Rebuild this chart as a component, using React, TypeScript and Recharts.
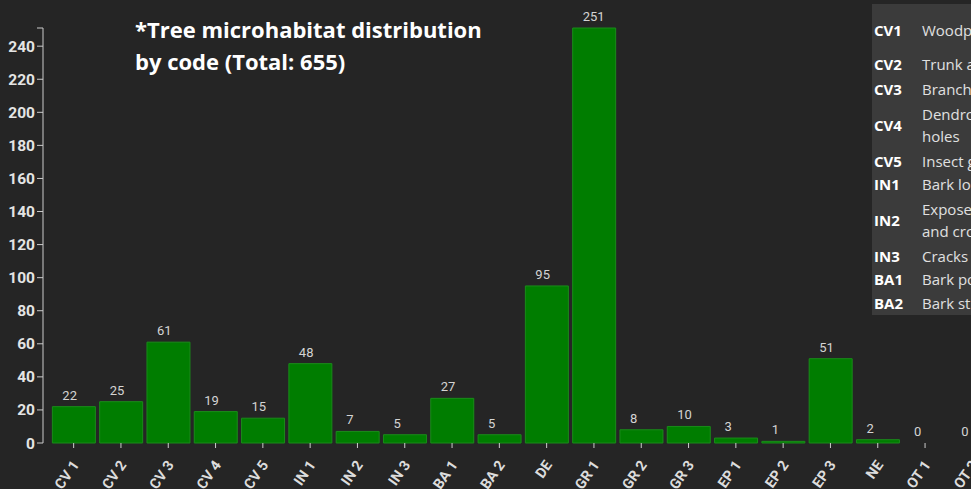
import React from 'react';
import { ComposedChart, Bar, Line, XAxis, YAxis, LabelList } from 'recharts';

const codes = ['CV 1', 'CV 2', 'CV 3', 'CV 4', 'CV 5', 'IN 1', 'IN 2', 'IN 3', 'BA 1', 'BA 2', 'DE', 'GR 1', 'GR 2', 'GR 3', 'EP 1', 'EP 2', 'EP 3', 'NE', 'OT 1', 'OT 2'];
const counts = [22, 25, 61, 19, 15, 48, 7, 5, 27, 5, 95, 251, 8, 10, 3, 1, 51, 2, 0, 0];
const yTicks = [0, 20, 40, 60, 80, 100, 120, 140, 160, 180, 200, 220, 240, 251];

const legendCodes = ['CV1', 'CV2', 'CV3', 'CV4', 'CV5', 'IN1', 'IN2', 'IN3', 'BA1', 'BA2'];
const legendLines: string[][] = [
  ['Woodpecker breeding cavities'],
  ['Trunk and mould cavities'],
  ['Branch holes'],
  ['Dendrotelms and water-filled', 'holes'],
  ['Insect galleries and bore holes'],
  ['Bark loss / exposed sapwood'],
  ['Exposed heartwood', 'and crown breakage'],
  ['Cracks and scars'],
  ['Bark pockets'],
  ['Bark structure'],
];
const legendCenters = [30, 64, 89, 125, 161, 184, 220, 256, 279, 303];

const data = codes.map((c, i) => ({ code: c, value: counts[i], zero: counts[i] === 0 ? 0 : null }));

const XTick = (props: any) => {
  const { x, y, payload } = props;
  return (
    <g transform={`translate(${x + 2},${y + 12})`}>
      <text
        transform="rotate(-55)"
        textAnchor="end"
        dy="0.35em"
        fill="#dcdcdc"
        fontFamily="Roboto"
        fontWeight={700}
        fontSize={14.5}
      >
        {payload.value}
      </text>
    </g>
  );
};

const renderValue = (p: any) => {
  if (p.value === null || p.value === undefined) return null;
  const vb = p.viewBox || p;
  const x = Number(vb.x);
  const y = Number(vb.y);
  const w = Number(vb.width) || 0;
  const left = w > 0 ? x + 10 : x - 11;
  return (
    <text x={left} y={y - 7} textAnchor="start" fill="#d4d4d4" fontFamily="Roboto" fontSize={13}>
      {p.value}
    </text>
  );
};

export default function App() {
  const lh = 22;
  return (
    <div style={{ position: 'fixed', left: 0, top: 0, width: 971, height: 489, overflow: 'hidden', background: '#252525' }}>
      <ComposedChart width={1010} height={489} data={data} barCategoryGap="5%" margin={{ top: 28, right: 14, left: 0, bottom: 0 }}>
        <XAxis
          dataKey="code"
          interval={0}
          height={46}
          axisLine={false}
          tickLine={{ stroke: '#cccccc' }}
          tickSize={5}
          padding={{ left: 7, right: 0 }}
          tick={<XTick />}
        />
        <YAxis
          width={43}
          domain={[0, 251]}
          ticks={yTicks}
          interval={0}
          axisLine={{ stroke: '#cccccc' }}
          tickLine={{ stroke: '#cccccc' }}
          tickSize={6}
          tickFormatter={(v: number) => (v === 251 ? '' : String(v))}
          tick={{ fill: '#e4e4e4', fontFamily: 'Roboto', fontWeight: 700, fontSize: 15.5 }}
        />
        <Bar dataKey="value" fill="#007d00" stroke="#1a8c1a" strokeWidth={1} isAnimationActive={false}>
          <LabelList dataKey="value" position="top" content={renderValue} />
        </Bar>
        <Line dataKey="zero" stroke="none" dot={false} activeDot={false} isAnimationActive={false}>
          <LabelList dataKey="zero" position="top" content={renderValue} />
        </Line>
      </ComposedChart>
      <div style={{ position: 'absolute', left: 135, top: 13, fontFamily: '"Open Sans"', fontWeight: 700, fontSize: 22, lineHeight: '32px', color: '#ffffff', whiteSpace: 'nowrap' }}>
        <div>*Tree microhabitat distribution</div>
        <div>by code (Total: 655)</div>
      </div>
      <div style={{ position: 'absolute', left: 872, top: 4, width: 300, height: 311, background: '#3b3b3b' }} />
      {legendCodes.map((c, i) => {
        const lines = legendLines[i];
        const center = legendCenters[i];
        const first = center - ((lines.length - 1) * lh) / 2;
        return (
          <React.Fragment key={c}>
            <div style={{ position: 'absolute', left: 874, top: center - 11, lineHeight: '22px', fontFamily: '"Open Sans"', fontWeight: 700, fontSize: 15, color: '#ffffff', whiteSpace: 'nowrap' }}>{c}</div>
            {lines.map((t, j) => (
              <div key={j} style={{ position: 'absolute', left: 922, top: first + j * lh - 11, lineHeight: '22px', fontFamily: '"Open Sans"', fontSize: 15, color: '#e0e0e0', whiteSpace: 'nowrap' }}>{t}</div>
            ))}
          </React.Fragment>
        );
      })}
    </div>
  );
}
